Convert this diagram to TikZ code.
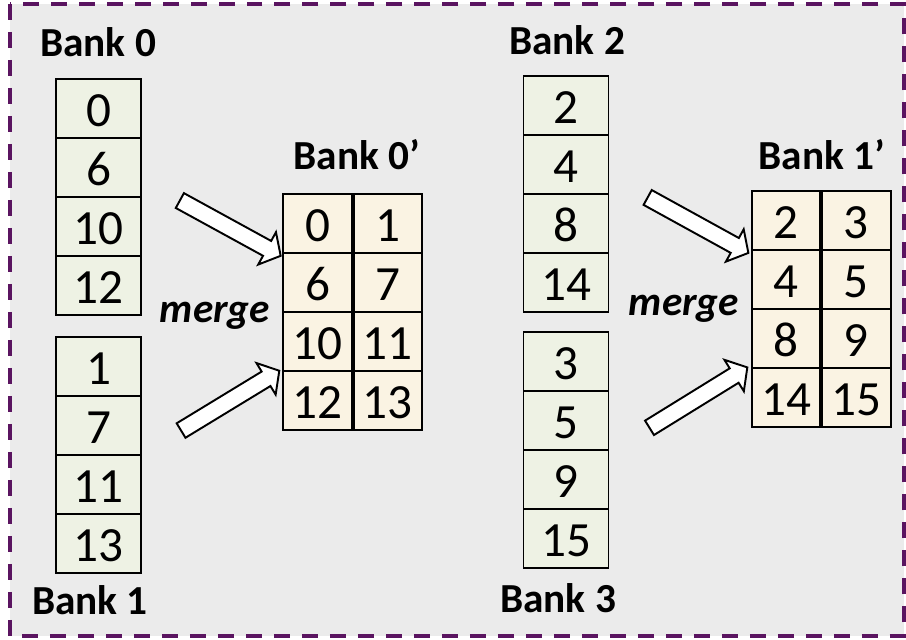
\documentclass[tikz,border=0pt]{standalone}
\usepackage{fontspec}
\setmainfont{Carlito}
\usetikzlibrary{positioning, shapes.arrows}
\definecolor{cgreen}{HTML}{EEF2E4}
\definecolor{ccream}{HTML}{FAF3E3}
\definecolor{cbg}{HTML}{EBEBEB}
\definecolor{cpurple}{HTML}{5A1460}
\tikzset{
  every picture/.style={x=0.02cm, y=-0.02cm, line width=1.1pt},
  cell/.style={draw, fill=cgreen, minimum width=1.7cm, minimum height=1.18cm, inner sep=0pt,
    font=\fontsize{28}{32}\selectfont, text height=20pt, text depth=0pt},
  mcell/.style={cell, fill=ccream, minimum width=1.37cm},
  title/.style={font=\fontsize{23.5}{28}\selectfont\bfseries},
  mergetext/.style={font=\fontsize{23.5}{28}\selectfont\bfseries\itshape},
  blockarrow/.style={single arrow, draw, fill=white, minimum height=2.3cm, inner sep=0.15cm,
    single arrow head extend=0.2cm, single arrow tip angle=100, sloped},
}

\begin{document}
\begin{tikzpicture}
  \useasboundingbox (0,0) rectangle (906,639);
  \draw[cpurple, fill=cbg, line width=2.3pt, dash pattern=on 0.32cm off 0.24cm] (10,4) rectangle (904,636);

  % the four source banks
  \foreach \v [count=\i from 0] in {0,6,10,12} \node[cell] (b0-\i) at (98.5, {108.5+59*\i}) {\v};
  \foreach \v [count=\i from 0] in {1,7,11,13} \node[cell] (b1-\i) at (98.5, {366.5+59*\i}) {\v};
  \foreach \v [count=\i from 0] in {2,4,8,14} \node[cell] (b2-\i) at (566, {105.5+59*\i}) {\v};
  \foreach \v [count=\i from 0] in {3,5,9,15} \node[cell] (b3-\i) at (566, {361.5+59*\i}) {\v};
  \node[title] (t0) at (98,42) {Bank 0};
  \node[title] (t1) at (90,600) {Bank 1};
  \node[title] (t2) at (567,40) {Bank 2};
  \node[title] (t3) at (558,598) {Bank 3};

  % merged banks, two entries per row
  \foreach \a/\b [count=\i from 0] in {0/1,6/7,10/11,12/13} {
    \node[mcell] (m0l-\i) at (317.5, {223.5+59*\i}) {\a};
    \node[mcell, right=0pt of m0l-\i] (m0r-\i) {\b};
  }
  \foreach \a/\b [count=\i from 0] in {2/3,4/5,8/9,14/15} {
    \node[mcell] (m1l-\i) at (786, {220.5+59*\i}) {\a};
    \node[mcell, right=0pt of m1l-\i] (m1r-\i) {\b};
  }
  \node[title] (t0p) at (357,155) {Bank 0'};
  \node[title] (t1p) at (822,155) {Bank 1'};
  \node[mergetext] (g0) at (215,316) {merge};
  \node[mergetext] (g1) at (684,309) {merge};

  \coordinate (s0) at (177,199);
  \coordinate (s1) at (177,433);
  \coordinate (s2) at (645,196);
  \coordinate (s3) at (646,430);
  \path (s0) -- ([xshift=-0.1cm]m0l-0.south west) node[blockarrow, midway] (a0) {};
  \path (s1) -- ([xshift=-0.1cm]m0l-2.south west) node[blockarrow, midway] (a1) {};
  \path (s2) -- ([xshift=-0.12cm]m1l-0.south west) node[blockarrow, midway] (a2) {};
  \path (s3) -- ([xshift=-0.12cm]m1l-2.south west) node[blockarrow, midway] (a3) {};
\end{tikzpicture}
\end{document}
